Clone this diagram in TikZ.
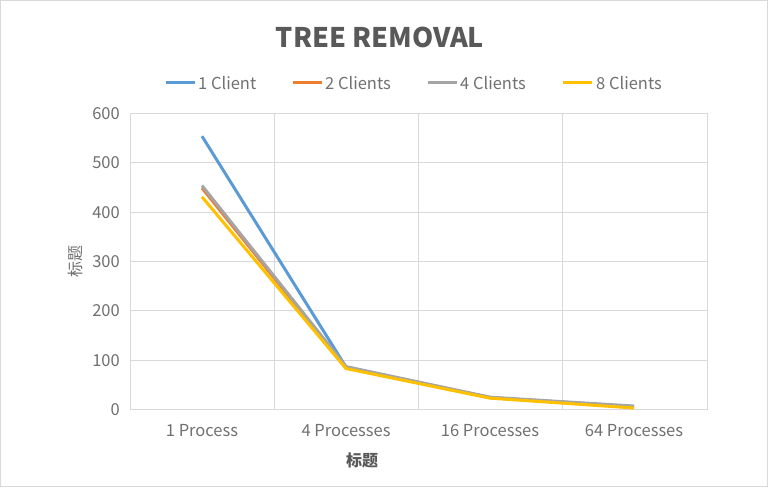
\documentclass[tikz,border=0pt]{standalone}
\usepackage{fontspec}
\setmainfont{Noto Sans CJK SC}
\usepackage{tikz}
\usetikzlibrary{calc}
\definecolor{txtgray}{HTML}{595959}
\definecolor{lbltgray}{HTML}{707070}
\definecolor{gridgray}{HTML}{D9D9D9}
\definecolor{cblue}{HTML}{5B9BD5}
\definecolor{corange}{HTML}{ED7D31}
\definecolor{cgray}{HTML}{A5A5A5}
\definecolor{cyellow}{HTML}{FFC000}
\tikzset{
  ticklabel/.style={text=lbltgray, font=\fontsize{16.5}{19}\selectfont, inner sep=0pt},
  serie/.style={line width=3, line join=round}
}
\def\plotserie[#1](#2,#3,#4,#5){\draw[serie,#1] (202, {78.5+0.49333*#2}) -- (346, {78.5+0.49333*#3}) -- (490, {78.5+0.49333*#4}) -- (634, {78.5+0.49333*#5});}

\begin{document}
\begin{tikzpicture}[x=1pt, y=1pt]
			%%%%% FRAME %%%%%
			\useasboundingbox (0, 0) rectangle (770, 488);
			\draw[gridgray, line width=1] (0.5, 1.5) rectangle (767.5, 487.5);
			
			\node[text=txtgray, font=\bfseries\fontsize{27}{30}\selectfont] (title) at (380, 451) {TREE REMOVAL};
			
			%%%%% GRID %%%%%
			\draw[gridgray, line width=1] (130, 78.5) -- (707, 78.5);
			\draw[gridgray, line width=1] (130, 127.83) -- (707, 127.83);
			\draw[gridgray, line width=1] (130, 177.17) -- (707, 177.17);
			\draw[gridgray, line width=1] (130, 226.5) -- (707, 226.5);
			\draw[gridgray, line width=1] (130, 275.83) -- (707, 275.83);
			\draw[gridgray, line width=1] (130, 325.17) -- (707, 325.17);
			\draw[gridgray, line width=1] (130, 374.5) -- (707, 374.5);
			
			\draw[gridgray, line width=1] (130, 78.5) -- (130, 374.5);
			\draw[gridgray, line width=1] (274, 78.5) -- (274, 374.5);
			\draw[gridgray, line width=1] (418, 78.5) -- (418, 374.5);
			\draw[gridgray, line width=1] (562, 78.5) -- (562, 374.5);
			\draw[gridgray, line width=1] (707, 78.5) -- (707, 374.5);
			
			%%%%% AXIS LABELS %%%%%
			\node[ticklabel, anchor=east] (y0) at (120, 78.5) {0};
			\node[ticklabel, anchor=east] (y100) at (120, 127.83) {100};
			\node[ticklabel, anchor=east] (y200) at (120, 177.17) {200};
			\node[ticklabel, anchor=east] (y300) at (120, 226.5) {300};
			\node[ticklabel, anchor=east] (y400) at (120, 275.83) {400};
			\node[ticklabel, anchor=east] (y500) at (120, 325.17) {500};
			\node[ticklabel, anchor=east] (y600) at (120, 374.5) {600};
			
			\node[ticklabel] (x1) at (202, 57) {1 Process};
			\node[ticklabel] (x4) at (346, 57) {4 Processes};
			\node[ticklabel] (x16) at (490, 57) {16 Processes};
			\node[ticklabel] (x64) at (634, 57) {64 Processes};
			
			\node[ticklabel, text=txtgray, font=\bfseries\fontsize{16}{19}\selectfont] (xtitle) at (362, 28) {标题};
			\node[ticklabel, rotate=90, font=\fontsize{16}{19}\selectfont] (ytitle) at (75, 227) {标题};
			
			%%%%% DATA %%%%%
			\plotserie[cblue](554, 86, 24, 6)
			\plotserie[corange](449, 85, 24, 5)
			\plotserie[cgray](454, 87, 25, 7)
			\plotserie[cyellow](431, 83, 23, 3)
			
			%%%%% LEGEND %%%%%
			\coordinate (l1a) at (166, 405);
			\coordinate (l1b) at (195, 405);
			\draw[serie, cblue] (l1a) -- (l1b);
			\node[ticklabel, anchor=west] (l1) at (198, 405) {1 Client};
			\coordinate (l2a) at (293, 405);
			\coordinate (l2b) at (322, 405);
			\draw[serie, corange] (l2a) -- (l2b);
			\node[ticklabel, anchor=west] (l2) at (325, 405) {2 Clients};
			\coordinate (l4a) at (428, 405);
			\coordinate (l4b) at (457, 405);
			\draw[serie, cgray] (l4a) -- (l4b);
			\node[ticklabel, anchor=west] (l4) at (460, 405) {4 Clients};
			\coordinate (l8a) at (563, 405);
			\coordinate (l8b) at (592, 405);
			\draw[serie, cyellow] (l8a) -- (l8b);
			\node[ticklabel, anchor=west] (l8) at (596, 405) {8 Clients};
			
\end{tikzpicture}
\end{document}
